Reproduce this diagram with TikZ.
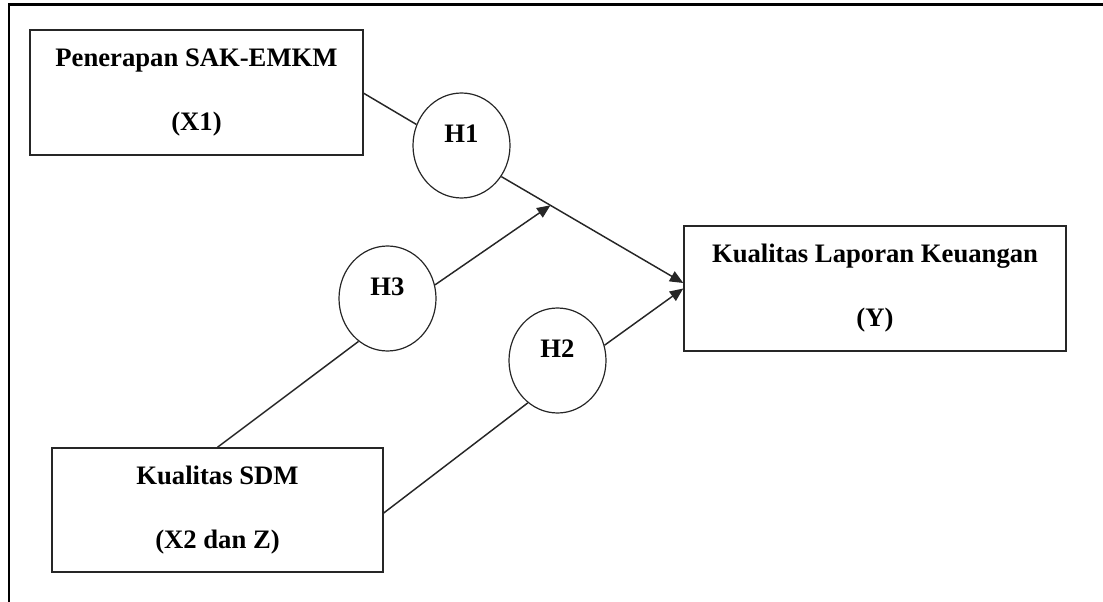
\documentclass[tikz,border=0pt]{standalone}
\usepackage{fontspec}
\setmainfont{Liberation Serif}
\usetikzlibrary{shapes.geometric,arrows.meta,calc}
\begin{document}
\begin{tikzpicture}[x=0.75pt,y=-0.75pt,
  box/.style={draw=black!85,line width=1.1pt,rectangle,inner sep=0pt,align=center,
    font=\fontsize{20}{24}\selectfont\bfseries},
  hyp/.style={draw=black!85,line width=0.9pt,ellipse,inner sep=0pt,
    minimum width=72.75pt,minimum height=78.75pt},
  hlbl/.style={yshift=9pt,font=\fontsize{20}{24}\selectfont\bfseries},
  conn/.style={draw=black!85,line width=1.1pt},
  arr/.style={conn,-{Triangle[length=10pt,width=8.5pt]}},
  frame/.style={draw=black,line width=1.7pt}]
\useasboundingbox (0,0) rectangle (1103,602);
% frame (top and left edges visible)
\coordinate (ftl) at (9,4.5);
\coordinate (ftr) at (1103,4.5);
\coordinate (fbl) at (9,602);
\draw[frame] (fbl) -- (ftl) -- (ftr);
% boxes
\node[box,minimum width=249.75pt,minimum height=93.75pt] (x1) at (196.5,92.5)
  {Penerapan SAK-EMKM\\[24pt](X1)};
\node[box,minimum width=286.5pt,minimum height=93.75pt] (y) at (875,288.5)
  {Kualitas Laporan Keuangan\\[24pt](Y)};
\node[box,minimum width=248.25pt,minimum height=93pt] (sdm) at (217.5,510)
  {Kualitas SDM\\[24pt](X2 dan Z)};
% hypotheses
\node[hyp,label={[hlbl,name=h1t]center:H1}] (h1) at (461.5,145.5) {};
\node[hyp,label={[hlbl,name=h3t]center:H3}] (h3) at (387.5,298.5) {};
\node[hyp,label={[hlbl,name=h2t]center:H2}] (h2) at (557.5,360.5) {};
% connectors
\coordinate (yin) at ($(y.west)+(0,-5.5)$);
\coordinate (m) at ($(h1.-38)!0.27!(yin)$);
\draw[conn] ($(x1.north east)+(0,64)$) -- (h1.155);
\draw[arr] (h1.-38) -- (yin);
\draw[conn] (sdm.north) -- (h3.236);
\draw[arr] (h3.16) -- (m);
\draw[conn] ($(sdm.east)+(0,3)$) -- (h2.235);
\draw[arr] (h2.18) -- (y.west);
\end{tikzpicture}
\end{document}
